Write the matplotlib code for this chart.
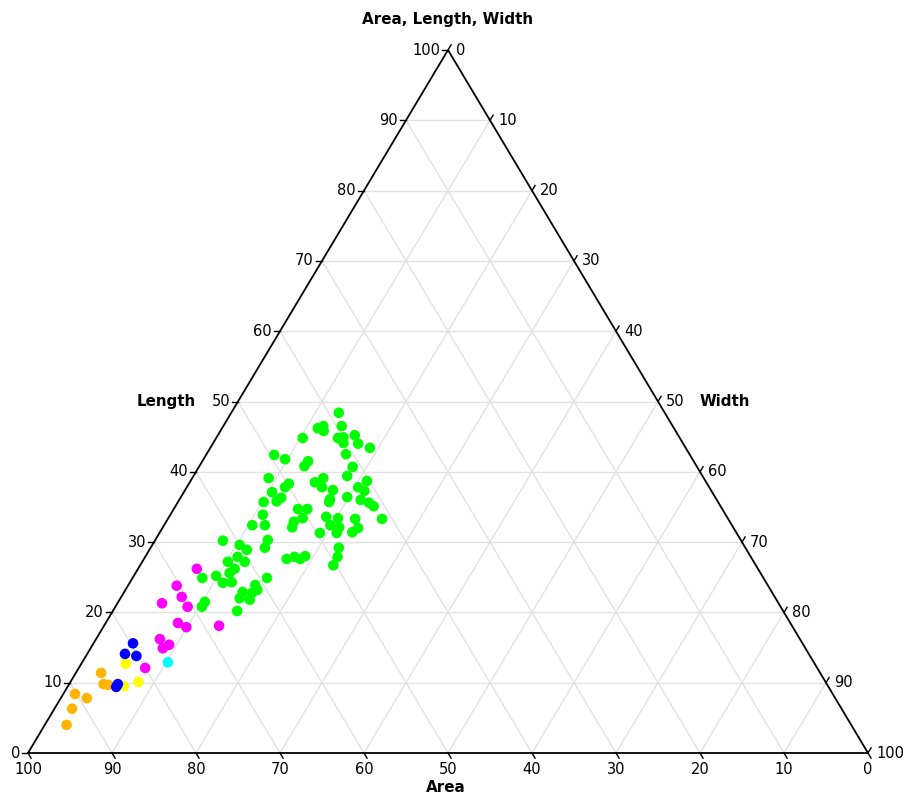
import numpy as np
import matplotlib.pyplot as plt

# ---------------------------------------------------------------------------
# ternary data, percent (Area, Length, Width)
green_area = [38.8, 39.4, 42.4, 41.6, 41.9, 44.9, 40.7, 40.0, 40.4, 38.5,
              38.7, 37.6, 40.9, 45.9, 46.7, 41.0, 42.3, 40.3, 46.6, 45.3,
              46.1, 49.8, 45.0, 46.0, 41.8, 41.3, 43.8, 42.4, 41.6, 41.3,
              49.4, 50.5, 49.5, 48.5, 51.8, 52.4, 54.1, 52.5, 51.7, 55.1,
              57.1, 55.6, 52.5, 51.9, 50.6, 50.5, 46.3, 47.7, 46.4, 47.8,
              46.9, 47.6, 49.6, 44.4, 44.7, 45.7, 41.2, 48.4, 49.2, 50.3,
              54.3, 53.0, 53.8, 61.7, 60.0, 59.5, 56.3, 57.2, 62.6, 61.1,
              60.6, 62.3, 63.2, 65.0, 66.8, 64.7, 63.6, 59.1, 55.4, 61.0,
              61.1, 63.0, 61.9, 63.8, 62.7, 68.2, 68.9, 65.0]
green_length = [48.4, 46.5, 46.2, 46.5, 45.8, 44.8, 44.8, 44.9, 44.1, 45.2,
                44.0, 43.4, 42.5, 41.5, 40.8, 40.7, 39.4, 38.7, 38.5, 39.1,
                37.8, 38.3, 37.4, 36.1, 37.8, 37.3, 36.4, 36.0, 35.6, 35.1,
                34.7, 34.7, 42.4, 41.8, 39.1, 37.1, 35.7, 35.8, 36.3, 33.9,
                32.4, 32.4, 32.1, 32.9, 33.4, 37.8, 35.7, 33.6, 33.4, 32.4,
                32.1, 31.3, 31.3, 33.3, 32.0, 31.4, 33.3, 29.2, 27.9, 26.7,
                27.9, 28.0, 27.6, 30.2, 29.6, 28.9, 30.3, 29.2, 27.2, 27.9,
                27.2, 26.2, 25.6, 25.2, 24.9, 24.2, 24.3, 24.9, 27.6, 23.9,
                23.2, 22.9, 22.8, 22.0, 21.8, 21.5, 20.8, 20.2]
green_width = [12.8, 14.1, 11.4, 11.9, 12.3, 10.3, 14.5, 15.1, 15.5, 16.3,
               17.3, 19.0, 16.6, 12.6, 12.5, 18.3, 18.3, 21.0, 14.9, 15.6,
               16.1, 11.9, 17.6, 17.9, 20.4, 21.4, 19.8, 21.6, 22.8, 23.6,
               15.9, 14.8, 8.1, 9.7, 9.1, 10.5, 10.2, 11.7, 12.0, 11.0,
               10.5, 12.0, 15.4, 15.2, 16.0, 11.7, 18.0, 18.7, 20.2, 19.8,
               21.0, 21.1, 19.1, 22.3, 23.3, 22.9, 25.5, 22.4, 22.9, 23.0,
               17.8, 19.0, 18.6, 8.1, 10.4, 11.6, 13.4, 13.6, 10.2, 11.0,
               12.2, 11.5, 11.2, 9.8, 8.3, 11.1, 12.1, 16.0, 17.0, 15.1,
               15.7, 14.1, 15.3, 14.2, 15.5, 10.3, 10.3, 14.8]

magenta_area = [66.8, 70.4, 70.6, 70.6, 73.4, 72.9, 72.2, 68.2, 76.2, 75.5, 76.5, 80.0]
magenta_length = [26.2, 23.8, 22.2, 20.8, 21.3, 18.5, 17.9, 18.1, 16.2, 15.4, 14.9, 12.1]
magenta_width = [7.0, 5.8, 7.2, 8.6, 5.3, 8.6, 9.9, 13.7, 7.6, 9.1, 8.6, 7.9]

blue_area = [79.7, 81.4, 80.2, 84.4, 84.8]
blue_length = [15.6, 14.1, 13.8, 9.8, 9.4]
blue_width = [4.7, 4.5, 6.0, 5.8, 5.8]

yellow_area = [82.0, 83.8, 81.8]
yellow_length = [12.7, 9.5, 10.1]
yellow_width = [5.3, 6.7, 8.1]

cyan_area = [76.9]
cyan_length = [12.9]
cyan_width = [10.2]

orange_area = [85.6, 86.1, 85.6, 90.2, 89.1, 91.6, 93.4]
orange_length = [11.4, 9.8, 9.7, 8.4, 7.8, 6.3, 4.0]
orange_width = [3.0, 4.1, 4.7, 1.4, 3.1, 2.1, 2.6]

ticks = list(range(0, 101, 10))


def to_xy(area, length, width):
    """ternary (area, length, width) -> cartesian, triangle base 0..1, height 0..1"""
    a = np.asarray(area, float)
    l = np.asarray(length, float)
    w = np.asarray(width, float)
    s = a + l + w
    l = l / s
    w = w / s
    return w + l / 2, l


fig = plt.figure(figsize=(9.07, 7.94), dpi=100)
ax = fig.add_axes([28 / 907, 41 / 794, 840 / 907, 703 / 794])
ax.set_xlim(0, 1)
ax.set_ylim(0, 1)
ax.axis('off')

# one pixel in data units
px = 1 / 840
py = 1 / 703

# grid
gc = '#e1e1e1'
for k in ticks[1:-1]:
    f = k / 100
    ax.plot([f / 2, 1 - f / 2], [f, f], color=gc, lw=1, zorder=1)          # length
    ax.plot([(1 + f) / 2, f], [1 - f, 0], color=gc, lw=1, zorder=1)        # width
    ax.plot([1 - f, (1 - f) / 2], [0, 1 - f], color=gc, lw=1, zorder=1)    # area

# triangle
ax.plot([0, 1, 0.5, 0], [0, 0, 1, 0], color='black', lw=1.3, zorder=2,
        solid_joinstyle='miter', clip_on=False)

tl = 6
dx, dy = 0.513 * tl, 0.859 * tl
fs = 10.5
tfs = 10.9
for k in ticks:
    f = k / 100
    # length, left side
    x, y = f / 2, f
    ax.plot([x, x - tl * px], [y, y], color='black', lw=1, clip_on=False)
    ax.text(x - 8 * px, y, str(k), ha='right', va='center', fontsize=fs)
    # width, right side
    x, y = (1 + f) / 2, 1 - f
    ax.plot([x, x + dx * px], [y, y + dy * py], color='black', lw=1, clip_on=False)
    ax.text(x + 8 * px, y, str(k), ha='left', va='center', fontsize=fs)
    # area, bottom
    x, y = 1 - f, 0
    ax.plot([x, x + dx * px], [y, y - dy * py], color='black', lw=1, clip_on=False)
    ax.text(x, -17 * py, str(k), ha='center', va='center', fontsize=fs)

ax.text(0.5, 1 + 31 * py, 'Area, Length, Width', ha='center', va='center',
        fontsize=tfs, fontweight='bold')
ax.text(138 / 840, 0.5, 'Length', ha='center', va='center', fontsize=tfs, fontweight='bold')
ax.text(697 / 840, 0.5, 'Width', ha='center', va='center', fontsize=tfs, fontweight='bold')
ax.text(418 / 840, -35 * py, 'Area', ha='center', va='center', fontsize=tfs, fontweight='bold')

# points
groups = [
    (orange_area, orange_length, orange_width, '#ffb400'),
    (yellow_area, yellow_length, yellow_width, '#ffff00'),
    (green_area, green_length, green_width, '#00ff00'),
    (magenta_area, magenta_length, magenta_width, '#ff00ff'),
    (cyan_area, cyan_length, cyan_width, '#00ffff'),
    (blue_area, blue_length, blue_width, '#0000ff'),
]
for a, l, w, c in groups:
    x, y = to_xy(a, l, w)
    ax.scatter(x, y, s=58, color=c, edgecolors='none', zorder=3, clip_on=False)

fig.savefig('out.png', dpi=100)
